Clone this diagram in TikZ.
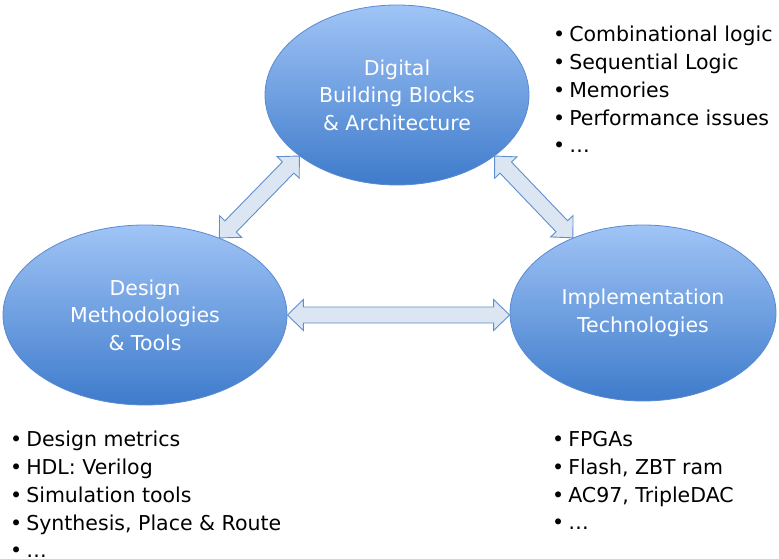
\documentclass[tikz,border=0pt]{standalone}
\usepackage{fontspec}
\setmainfont{DejaVu Sans}
\usetikzlibrary{shapes.geometric,calc}

\definecolor{ballTop}{HTML}{A0C4F6}
\definecolor{ballBottom}{HTML}{3E7BCB}
\definecolor{ballEdge}{HTML}{5A8AD0}
\definecolor{arrowFill}{HTML}{DCE6F2}
\definecolor{arrowEdge}{HTML}{5F8FCF}

% list bullet with a tight gap before the text
\newcommand\bul{•\hspace{4pt}}

% double-headed block arrow between two named points
\newcommand\blockarrow[2]{%
  \draw[arrowshape]
    (#1)
    -- ($(#1)!16pt!(#2)!15.5pt!90:(#2)$)
    -- ($(#1)!16pt!(#2)!8pt!90:(#2)$)
    -- ($(#2)!16pt!(#1)!8pt!-90:(#1)$)
    -- ($(#2)!16pt!(#1)!15.5pt!-90:(#1)$)
    -- (#2)
    -- ($(#2)!16pt!(#1)!15.5pt!90:(#1)$)
    -- ($(#2)!16pt!(#1)!8pt!90:(#1)$)
    -- ($(#1)!16pt!(#2)!8pt!-90:(#2)$)
    -- ($(#1)!16pt!(#2)!15.5pt!-90:(#2)$)
    -- cycle;}

\begin{document}
\begin{tikzpicture}[x=1pt,y=-1pt,
  ball/.style={ellipse, draw=ballEdge, line width=0.8pt,
    top color=ballTop, bottom color=ballBottom, inner sep=0pt,
    text=white, align=center, font=\fontsize{20.5}{27.5}\selectfont},
  arrowshape/.style={fill=arrowFill, draw=arrowEdge, line width=0.9pt, line join=miter},
  bullets/.style={anchor=north west, align=left, inner sep=0pt,
    font=\fontsize{20.5}{27.8}\selectfont}]
\useasboundingbox (0,0) rectangle (779,559);

\node[ball, minimum width=264pt, minimum height=180pt] (top) at (397,95)
  {Digital\\Building Blocks\\\& Architecture};
\node[ball, minimum width=284pt, minimum height=180pt] (left) at (145,315)
  {Design\\Methodologies\\\& Tools};
\node[ball, minimum width=266pt, minimum height=176pt] (right) at (643,313)
  {Implementation\\Technologies};

\coordinate (lt) at (left.46);
\coordinate (tl) at (top.212);
\coordinate (tr) at (top.-32);
\coordinate (rt) at (right.133);
\coordinate (le) at (left.east);
\coordinate (re) at (left.east -| right.west);

\blockarrow{lt}{tl}
\blockarrow{tr}{rt}
\blockarrow{le}{re}

\node[bullets] (topList) at (553,26)
  {\bul Combinational logic\\\bul Sequential Logic\\\bul Memories\\\bul Performance issues\\\bul …};
\node[bullets] (leftList) at (10,431)
  {\bul Design metrics\\\bul HDL: Verilog\\\bul Simulation tools\\\bul Synthesis, Place \& Route\\\bul …};
\node[bullets] (rightList) at (552,431)
  {\bul FPGAs\\\bul Flash, ZBT ram\\\bul AC97, TripleDAC\\\bul …};
\end{tikzpicture}
\end{document}
